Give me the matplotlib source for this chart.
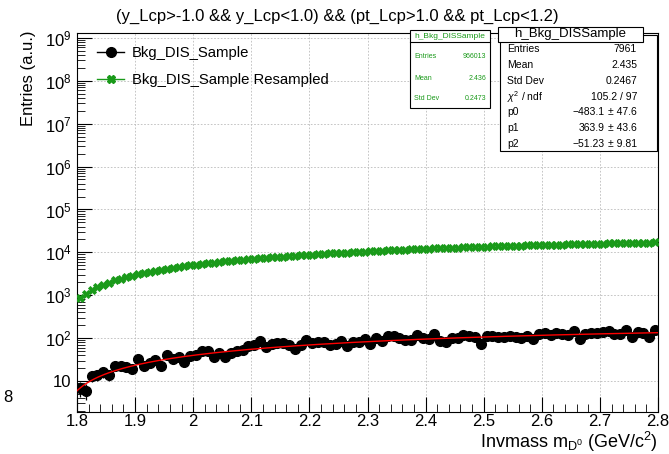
import matplotlib
matplotlib.use("Agg")
import matplotlib.pyplot as plt
from matplotlib.patches import Rectangle
from matplotlib.lines import Line2D
from matplotlib.ticker import FixedLocator, FixedFormatter, MultipleLocator, LogLocator, NullFormatter
import numpy as np

plt.rcParams["font.family"] = ["Liberation Sans", "DejaVu Sans"]
plt.rcParams["mathtext.fontset"] = "custom"
plt.rcParams["mathtext.rm"] = "Liberation Sans"
plt.rcParams["mathtext.it"] = "Liberation Sans:italic"

# histogram binning: 100 bins from 1.8 to 2.8
bin_lo = 1.8
bin_w = 0.01
n_bins = 100

# Bkg_DIS_Sample
bkg_counts = [7, 6, 13, 14, 16, 14, 23, 23, 21, 19,
              33, 23, 26, 31, 22, 41, 33, 36, 28, 39,
              41, 49, 50, 36, 44, 37, 45, 51, 53, 64,
              71, 85, 62, 75, 77, 78, 71, 57, 70, 91,
              77, 81, 80, 69, 75, 84, 67, 83, 82, 94,
              75, 102, 87, 110, 111, 101, 93, 92, 117, 101,
              97, 125, 87, 81, 100, 103, 119, 115, 108, 72,
              111, 114, 108, 107, 112, 106, 101, 113, 97, 127,
              135, 121, 135, 128, 121, 146, 98, 122, 129, 129,
              136, 146, 122, 128, 154, 108, 136, 129, 107, 152]

# Bkg_DIS_Sample Resampled
resampled_counts = [860, 1090, 1320, 1550, 1770, 1980, 2210, 2430, 2640, 2860,
                    3070, 3280, 3490, 3700, 3900, 4100, 4300, 4540, 4750, 4950,
                    5150, 5360, 5550, 5750, 5940, 6140, 6340, 6530, 6720, 6910,
                    7100, 7280, 7460, 7630, 7810, 7990, 8150, 8330, 8500, 8660,
                    8910, 9080, 9260, 9420, 9590, 9770, 9930, 10100, 10270, 10440,
                    10600, 10760, 10910, 11070, 11230, 11380, 11540, 11700, 11850, 12010,
                    12170, 12310, 12460, 12600, 12740, 12890, 13030, 13170, 13320, 13460,
                    13590, 13720, 13860, 13980, 14110, 14240, 14380, 14500, 14630, 14760,
                    14880, 15000, 15110, 15240, 15350, 15470, 15580, 15710, 15820, 15940,
                    16050, 16150, 16260, 16370, 16470, 16570, 16680, 16790, 16890, 16990]

# pol2 fit parameters from the stats box
fit_p = [-483.1, 363.9, -51.23]

x_ticks = [1.8, 1.9, 2.0, 2.1, 2.2, 2.3, 2.4, 2.5, 2.6, 2.7, 2.8]
x_tick_labels = ["1.8", "1.9", "2", "2.1", "2.2", "2.3", "2.4", "2.5", "2.6", "2.7", "2.8"]
y_ticks = [1e1, 1e2, 1e3, 1e4, 1e5, 1e6, 1e7, 1e8, 1e9]
y_tick_labels = ["10"] + [r"$\mathregular{10^{%d}}$" % k for k in range(2, 10)]

W, H = 669, 454
def fx(px):
    return px / W
def fy(py):
    return 1 - py / H

fig = plt.figure(figsize=(6.69, 4.54), dpi=100)
ax = fig.add_axes([fx(77), fy(412), fx(658) - fx(77), fy(33) - fy(412)])

centers = bin_lo + bin_w * (np.arange(n_bins) + 0.5)
bkg = np.array(bkg_counts, dtype=float)
res = np.array(resampled_counts, dtype=float)

green = "#1a9a1a"
ax.errorbar(centers, res, xerr=bin_w / 2, yerr=np.sqrt(res), fmt="X", color=green,
            markersize=5.5, markeredgewidth=0.6, elinewidth=0.8, capsize=0, zorder=3)
ax.errorbar(centers, bkg, xerr=bin_w / 2, yerr=np.sqrt(bkg), fmt="o", color="black",
            markersize=7, elinewidth=0.9, capsize=0, zorder=4)

xf = np.linspace(1.8, 2.8, 300)
ax.plot(xf, fit_p[0] + fit_p[1] * xf + fit_p[2] * xf ** 2, color="red", lw=1.0, zorder=5)

ax.set_xlim(1.8, 2.8)
ax.set_yscale("log")
ax.set_ylim(1.9, 1.3e9)

ax.xaxis.set_major_locator(FixedLocator(x_ticks))
ax.xaxis.set_major_formatter(FixedFormatter(x_tick_labels))
ax.xaxis.set_minor_locator(MultipleLocator(0.02))
ax.yaxis.set_major_locator(FixedLocator(y_ticks))
ax.yaxis.set_major_formatter(FixedFormatter(y_tick_labels))
ax.yaxis.set_minor_locator(LogLocator(base=10, subs=np.arange(2, 10)))
ax.yaxis.set_minor_formatter(NullFormatter())

ax.tick_params(which="both", direction="in", top=False, right=False, labelsize=12)
ax.tick_params(which="major", length=11, width=0.8)
ax.tick_params(which="minor", length=6, width=0.6)
ax.tick_params(axis="x", pad=1.5)
ax.tick_params(axis="y", pad=4)
ax.grid(True, which="major", color="#bbbbbb", linestyle=(0, (2, 2)), linewidth=0.6)
for s in ax.spines.values():
    s.set_linewidth(0.8)

fig.text(fx(337), fy(16), "(y_Lcp>-1.0 && y_Lcp<1.0) && (pt_Lcp>1.0 && pt_Lcp<1.2)",
         ha="center", va="center", fontsize=12)
fig.text(fx(28), fy(30), "Entries (a.u.)", rotation=90, ha="center", va="top", fontsize=12)
fig.text(fx(658), fy(454), r"Invmass m$_{\mathrm{D^0}}$ (GeV/c$^{2}$)", ha="right", va="bottom", fontsize=13)
fig.text(fx(3), fy(397), "8", ha="left", va="center", fontsize=12)

handles = [Line2D([], [], color="black", marker="o", markersize=7, lw=1),
           Line2D([], [], color=green, marker="X", markersize=6, lw=1)]
ax.legend(handles, ["Bkg_DIS_Sample", "Bkg_DIS_Sample Resampled"], loc="upper left",
          bbox_to_anchor=(0.012, 1.0), frameon=False, fontsize=10.7, handlelength=1.8,
          labelspacing=0.85, handletextpad=0.5)

# stats box of the resampled histogram
fig.patches.append(Rectangle((fx(410), fy(108)), fx(490) - fx(410), fy(30) - fy(108),
                             transform=fig.transFigure, facecolor="white", edgecolor="black",
                             lw=0.8, zorder=10))
fig.lines.append(Line2D([fx(410), fx(490)], [fy(42), fy(42)], transform=fig.transFigure,
                        color="black", lw=0.8, zorder=11))
fig.text(fx(450), fy(36), "h_Bkg_DISSample", ha="center", va="center", fontsize=6, color=green, zorder=12)
for lab, val, py in [("Entries", "966013", 57), ("Mean", "2.436", 78), ("Std Dev", "0.2473", 99)]:
    fig.text(fx(414), fy(py), lab, ha="left", va="center", fontsize=5, color=green, zorder=12)
    fig.text(fx(486), fy(py), val, ha="right", va="center", fontsize=5, color=green, zorder=12)

# stats box of the fitted histogram
fig.patches.append(Rectangle((fx(500), fy(151)), fx(657) - fx(500), fy(35) - fy(151),
                             transform=fig.transFigure, facecolor="white", edgecolor="black",
                             lw=0.8, zorder=10))
fig.patches.append(Rectangle((fx(498), fy(42)), fx(643) - fx(498), fy(27) - fy(42),
                             transform=fig.transFigure, facecolor="white", edgecolor="black",
                             lw=0.8, zorder=11))
fig.text(fx(570), fy(34.5), "h_Bkg_DISSample", ha="center", va="center", fontsize=9.5, zorder=12)
rows = [("Entries", "7961", "", 49), ("Mean", "2.435", "", 65), ("Std Dev", "0.2467", "", 81),
        (r"$\chi^{2}$ / ndf", "105.2 / 97", "", 97), ("p0", "\u2212483.1", "\u00b1 47.6", 112),
        ("p1", "363.9", "\u00b1 43.6", 128), ("p2", "\u221251.23", "\u00b1 9.81", 144)]
for lab, val, err, py in rows:
    fig.text(fx(507), fy(py), lab, ha="left", va="center", fontsize=7.5, zorder=12)
    if err:
        fig.text(fx(605), fy(py), val, ha="right", va="center", fontsize=7.5, zorder=12)
        fig.text(fx(637), fy(py), err, ha="right", va="center", fontsize=7.5, zorder=12)
    else:
        fig.text(fx(637), fy(py), val, ha="right", va="center", fontsize=7.5, zorder=12)

fig.savefig("out.png", dpi=100)
